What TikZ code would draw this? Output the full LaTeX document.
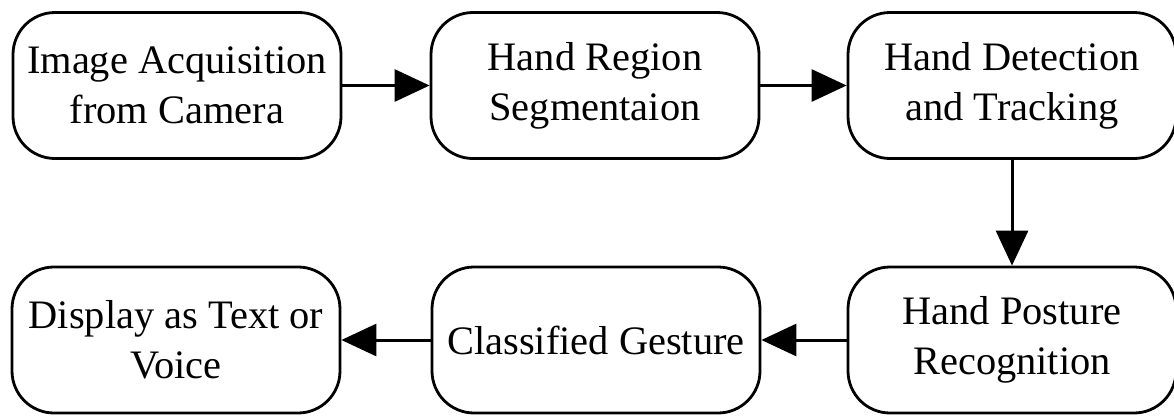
\documentclass[tikz,border=0pt]{standalone}
\usepackage{fontspec}
\setmainfont{Liberation Serif}
\usetikzlibrary{arrows.meta}
\newlength{\du}
\setlength{\du}{0.2cm}

\begin{document}
\begin{tikzpicture}[yscale=-1,
	stagebox/.style={draw=black, line width=0.28\du, rounded corners=4.2\du, minimum width=32.8\du, minimum height=14.6\du, inner sep=0pt, align=center, font=\rmfamily\fontsize{23}{28.5}\selectfont},
	flow/.style={draw=black, line width=0.3\du, -{Triangle[length=0.7cm,width=0.64cm]}}]
	\useasboundingbox (0\du,0\du) rectangle (117.4\du,41.6\du);
	% top row
	\node[stagebox] (acquire) at (17.7\du,8.55\du){Image Acquisition\\from Camera};
	\node[stagebox] (segment) at (59.5\du,8.55\du){Hand Region\\Segmentaion};
	\node[stagebox] (track) at (101.2\du,8.55\du){Hand Detection\\and Tracking};
	% bottom row
	\node[stagebox] (posture) at (101.2\du,34.0\du){Hand Posture\\Recognition};
	\node[stagebox] (classify) at (59.6\du,34.0\du){Classified Gesture};
	\node[stagebox] (output) at (17.6\du,34.0\du){Display as Text or\\Voice};
	% arrows between stages
	\draw[flow] (acquire) -- (segment);
	\draw[flow] (segment) -- (track);
	\draw[flow] (track) -- (posture);
	\draw[flow] (posture) -- (classify);
	\draw[flow] (classify) -- (output);
\end{tikzpicture}
\end{document}
